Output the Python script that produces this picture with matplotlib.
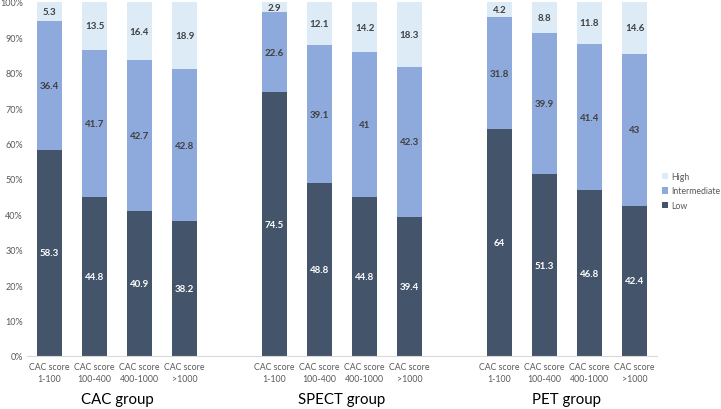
import matplotlib
matplotlib.use("Agg")
import matplotlib.pyplot as plt
import numpy as np

plt.rcParams['font.family'] = ['Lato', 'DejaVu Sans']

groups = ["CAC group", "SPECT group", "PET group"]
categories = ["CAC score\n1-100", "CAC score\n100-400", "CAC score\n400-1000", "CAC score\n>1000"]
low = [58.3, 44.8, 40.9, 38.2, 74.5, 48.8, 44.8, 39.4, 64, 51.3, 46.8, 42.4]
intermediate = [36.4, 41.7, 42.7, 42.8, 22.6, 39.1, 41, 42.3, 31.8, 39.9, 41.4, 43]
high = [5.3, 13.5, 16.4, 18.9, 2.9, 12.1, 14.2, 18.3, 4.2, 8.8, 11.8, 14.6]

c_low = "#44546A"
c_int = "#8EA9DB"
c_high = "#DDEBF7"

fig = plt.figure(figsize=(7.21, 4.10), dpi=100)
ax = fig.add_axes([27/721, 53/410, 630/721, 354/410])

x = np.array([0, 1, 2, 3, 5, 6, 7, 8, 10, 11, 12, 13], dtype=float)
w = 25/45
low_a = np.array(low); int_a = np.array(intermediate); high_a = np.array(high)
ax.bar(x, low_a, w, color=c_low, label="Low", zorder=2)
ax.bar(x, int_a, w, bottom=low_a, color=c_int, label="Intermediate", zorder=2)
ax.bar(x, high_a, w, bottom=low_a + int_a, color=c_high, label="High", zorder=2)

def fmt(v):
    return ("%g" % v)

for xi, l, m, h in zip(x, low_a, int_a, high_a):
    ax.text(xi, l/2, fmt(l), ha="center", va="center", color="white", fontsize=7, fontweight="bold")
    ax.text(xi, l + m/2, fmt(m), ha="center", va="center", color="#404040", fontsize=7, fontweight="bold")
    ax.text(xi, l + m + h/2, fmt(h), ha="center", va="center", color="#404040", fontsize=7, fontweight="bold")

ax.set_xlim(-0.5, 13.5)
ax.set_ylim(0, 100)
ax.set_yticks(np.arange(0, 101, 10))
ax.set_yticklabels(["%d%%" % v for v in range(0, 101, 10)], fontsize=6.5, color="#595959")
ax.set_xticks(x)
ax.set_xticklabels(categories * 3, fontsize=6.3, color="#595959", linespacing=1.55)
ax.tick_params(axis="both", length=0, pad=4)
ax.tick_params(axis="y", pad=3)
for s in ["top", "right", "left"]:
    ax.spines[s].set_visible(False)
ax.spines["bottom"].set_color("#D9D9D9")
ax.spines["bottom"].set_linewidth(0.8)

for gi, g in enumerate(groups):
    cx = x[gi*4:(gi+1)*4].mean()
    ax.text(cx, -(400 - 357) / 354, g, transform=ax.get_xaxis_transform(), ha="center", va="center",
            fontsize=10.8, color="black")

handles, labels = ax.get_legend_handles_labels()
leg = fig.legend(handles[::-1], labels[::-1], loc="center left", bbox_to_anchor=(662/721, 1 - 192/410),
                 frameon=False, fontsize=6.3, handlelength=0.7, handleheight=0.7, handletextpad=0.4,
                 labelspacing=0.65, borderaxespad=0, borderpad=0)
for t in leg.get_texts():
    t.set_color("#595959")

fig.savefig("out.png", dpi=100)
